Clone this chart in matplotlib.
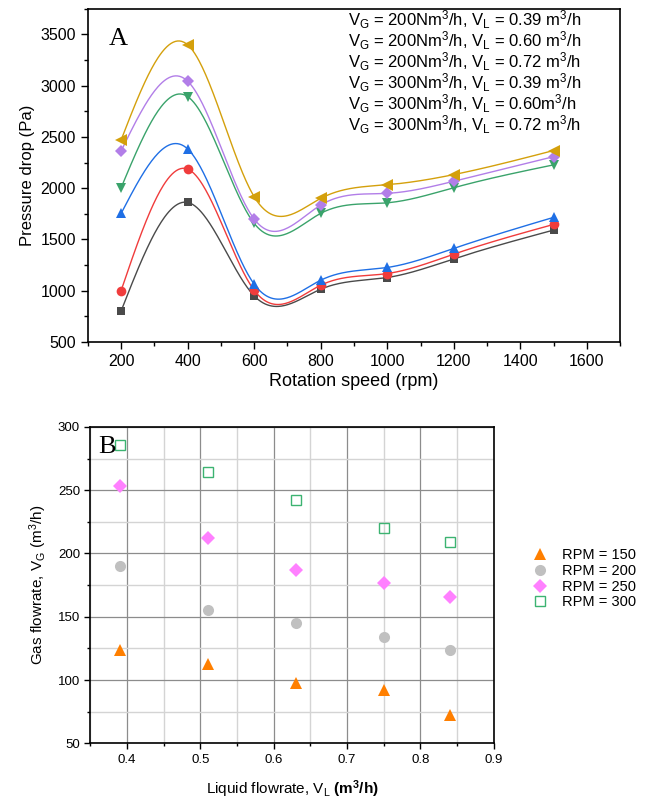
import numpy as np
import matplotlib
matplotlib.use("Agg")
import matplotlib.pyplot as plt
from matplotlib.ticker import MultipleLocator

plt.rcParams['font.family'] = ['Liberation Sans', 'DejaVu Sans']
plt.rcParams['mathtext.fontset'] = 'custom'
plt.rcParams['mathtext.rm'] = 'Liberation Sans'
plt.rcParams['mathtext.bf'] = 'Liberation Sans:bold'
plt.rcParams['mathtext.default'] = 'regular'

# ---- panel A data ----
rpm = [200, 400, 600, 800, 1000, 1200, 1500]
dp_200_039 = [803, 1862, 950, 1015, 1129, 1311, 1592]
dp_200_060 = [1002, 2187, 1005, 1054, 1168, 1357, 1647]
dp_200_072 = [1754, 2383, 1064, 1103, 1227, 1413, 1716]
dp_300_039 = [2005, 2894, 1657, 1755, 1858, 2005, 2228]
dp_300_060 = [2363, 3044, 1699, 1836, 1950, 2068, 2308]
dp_300_072 = [2471, 3399, 1917, 1901, 2034, 2133, 2368]
labels_a = [
    r"V$_G$ = 200Nm$^3$/h, V$_L$ = 0.39 m$^3$/h",
    r"V$_G$ = 200Nm$^3$/h, V$_L$ = 0.60 m$^3$/h",
    r"V$_G$ = 200Nm$^3$/h, V$_L$ = 0.72 m$^3$/h",
    r"V$_G$ = 300Nm$^3$/h, V$_L$ = 0.39 m$^3$/h",
    r"V$_G$ = 300Nm$^3$/h, V$_L$ = 0.60m$^3$/h",
    r"V$_G$ = 300Nm$^3$/h, V$_L$ = 0.72 m$^3$/h",
]

# ---- panel B data ----
vl = [0.39, 0.51, 0.63, 0.75, 0.84]
vg_150 = [124, 113, 98, 92, 72]
vg_200 = [190, 155, 145, 134, 124]
vg_250 = [253, 212, 187, 177, 166]
vg_300 = [286, 264, 242, 220, 209]
labels_b = ["RPM = 150", "RPM = 200", "RPM = 250", "RPM = 300"]


def natural_spline(x, y, xs):
    # plain natural cubic spline, no scipy needed
    x = np.asarray(x, float)
    y = np.asarray(y, float)
    n = len(x)
    h = np.diff(x)
    A = np.zeros((n, n))
    r = np.zeros(n)
    A[0, 0] = 1
    A[-1, -1] = 1
    for i in range(1, n - 1):
        A[i, i - 1] = h[i - 1]
        A[i, i] = 2 * (h[i - 1] + h[i])
        A[i, i + 1] = h[i]
        r[i] = 6 * ((y[i + 1] - y[i]) / h[i] - (y[i] - y[i - 1]) / h[i - 1])
    M = np.linalg.solve(A, r)
    idx = np.clip(np.searchsorted(x, xs) - 1, 0, n - 2)
    x0, x1 = x[idx], x[idx + 1]
    hh = h[idx]
    return (M[idx] * (x1 - xs) ** 3 / (6 * hh) + M[idx + 1] * (xs - x0) ** 3 / (6 * hh)
            + (y[idx] / hh - M[idx] * hh / 6) * (x1 - xs)
            + (y[idx + 1] / hh - M[idx + 1] * hh / 6) * (xs - x0))


fig = plt.figure(figsize=(6.46, 8.01), dpi=100)

# ---------- A ----------
ax = fig.add_axes([0.136, 0.573, 0.824, 0.416])
series_a = [dp_200_039, dp_200_060, dp_200_072, dp_300_039, dp_300_060, dp_300_072]
colors_a = ['#4a4a4a', '#f03c3c', '#1f6fe5', '#3aa36b', '#b27ee8', '#d4a00c']
markers_a = ['s', 'o', '^', 'v', 'D', '<']
sizes_a = [6, 7, 7.5, 7.5, 6.5, 8]
xs = np.linspace(rpm[0], rpm[-1], 400)
for vals, c, m, s in zip(series_a, colors_a, markers_a, sizes_a):
    ax.plot(xs, natural_spline(rpm, vals, xs), color=c, lw=1.0)
    ax.plot(rpm, vals, linestyle='none', marker=m, color=c, markersize=s, mew=0)

ax.set_xlim(100, 1700)
ax.set_ylim(500, 3750)
ax.xaxis.set_major_locator(MultipleLocator(200))
ax.xaxis.set_minor_locator(MultipleLocator(100))
ax.yaxis.set_major_locator(MultipleLocator(500))
ax.yaxis.set_minor_locator(MultipleLocator(250))
ax.tick_params(which='major', direction='out', length=5, width=1, labelsize=11.5)
ax.tick_params(which='minor', direction='out', length=3, width=1)
for sp in ax.spines.values():
    sp.set_linewidth(1.2)
ax.set_xlabel("Rotation speed (rpm)", fontsize=13, labelpad=3)
ax.set_ylabel("Pressure drop (Pa)", fontsize=12, labelpad=4)
ax.text(0.04, 0.91, "A", transform=ax.transAxes, fontsize=19,
        family=['Liberation Serif', 'DejaVu Serif'], va='center')

row_y = [0.967, 0.904, 0.841, 0.778, 0.715, 0.652]
for lab, yy in zip(labels_a, row_y):
    ax.text(0.489, yy, lab, transform=ax.transAxes, fontsize=12, va='center')

# ---------- B ----------
bx = fig.add_axes([0.140, 0.072, 0.624, 0.395])
bx.set_xlim(0.35, 0.9)
bx.set_ylim(50, 300)
bx.xaxis.set_major_locator(MultipleLocator(0.1))
bx.xaxis.set_minor_locator(MultipleLocator(0.05))
bx.yaxis.set_major_locator(MultipleLocator(50))
bx.yaxis.set_minor_locator(MultipleLocator(25))
bx.grid(which='major', color='#8c8c8c', lw=0.9)
bx.grid(which='minor', color='#d4d4d4', lw=1.0)
bx.set_axisbelow(True)
bx.tick_params(which='major', direction='out', length=4, width=1, labelsize=9.5)
bx.tick_params(which='minor', direction='out', length=2.5, width=1)
for sp in bx.spines.values():
    sp.set_linewidth(1.2)

bx.plot(vl, vg_150, linestyle='none', marker='^', color='#ff7f00', markersize=9, mew=0, label=labels_b[0])
bx.plot(vl, vg_200, linestyle='none', marker='o', color='#c0c0c0', markersize=8, mew=0, label=labels_b[1])
bx.plot(vl, vg_250, linestyle='none', marker='D', color='#ff80ff', markersize=7.5, mew=0, label=labels_b[2])
bx.plot(vl, vg_300, linestyle='none', marker='s', color='#3cb371', markersize=6.5, mew=1,
        markerfacecolor='none', label=labels_b[3])

bx.set_xlabel(r"Liquid flowrate, V$_L$ $\mathbf{(m^3/h)}$", fontsize=11, labelpad=9)
bx.set_ylabel(r"Gas flowrate, V$_G$ (m$^3$/h)", fontsize=11, labelpad=6)
bx.text(0.02, 0.935, "B", transform=bx.transAxes, fontsize=19,
        family=['Liberation Serif', 'DejaVu Serif'], va='center')
bx.legend(loc='center left', bbox_to_anchor=(1.075, 0.52), frameon=False, fontsize=10.5,
          handlelength=1.2, handletextpad=0.9, labelspacing=0.12, borderpad=0)

fig.savefig("out.png", dpi=100)
